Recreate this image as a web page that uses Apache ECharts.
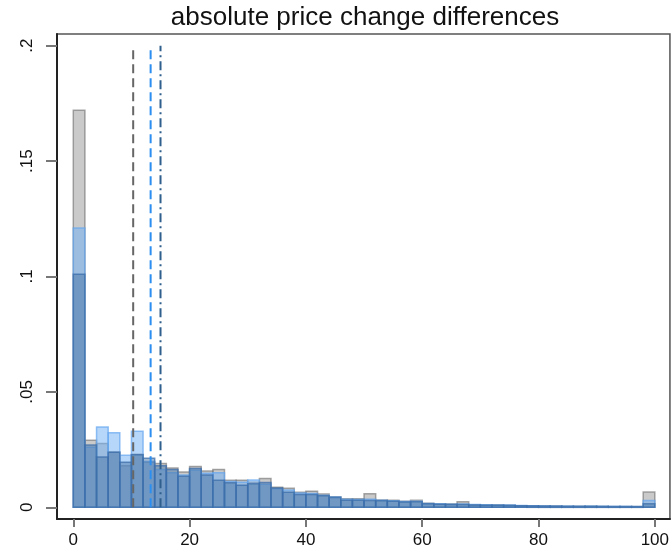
<!DOCTYPE html>
<html>
<head>
<meta charset="utf-8">
<script src="https://cdn.jsdelivr.net/npm/echarts@6/dist/echarts.min.js"></script>
<style>
  html, body { margin: 0; padding: 0; background: #fff; }
  #main { width: 672px; height: 553px; }
</style>
</head>
<body>
<div id="main"></div>
<script>
// bin lower edges (width 2)
const binStarts = [0,2,4,6,8,10,12,14,16,18,20,22,24,26,28,30,32,34,36,38,
  40,42,44,46,48,50,52,54,56,58,60,62,64,66,68,70,72,74,76,78,
  80,82,84,86,88,90,92,94,96,98];
const binWidth = 2;

// density per bin
const grayDensity = [.172,.029,.0276,.024,.018,.023,.0195,.019,.017,.0153,
  .0177,.0157,.0164,.0117,.0117,.0108,.0125,.0087,.0082,.0065,
  .007,.0058,.0046,.0037,.0037,.0059,.0032,.003,.0026,.003,
  .0017,.0014,.0014,.0024,.0011,.001,.001,.0009,.0007,.0006,
  .0006,.0005,.0004,.0004,.0004,.0003,.0003,.0003,.0003,.0066];
const lightDensity = [.121,.026,.0348,.0323,.0225,.033,.0198,.0164,.015,.014,
  .016,.0148,.015,.0112,.0108,.0118,.01,.008,.0075,.0062,
  .006,.0052,.0045,.0035,.0034,.0035,.003,.0028,.0025,.0026,
  .0016,.0015,.0013,.0014,.0012,.0011,.001,.001,.0008,.0007,
  .0006,.0005,.0005,.0004,.0005,.0004,.0004,.0004,.0003,.0029];
const darkDensity = [.101,.027,.0218,.0239,.0195,.0228,.0212,.018,.0164,.0134,
  .0168,.014,.0117,.0106,.0096,.0102,.0107,.0084,.0065,.0055,
  .0055,.005,.0042,.0031,.003,.0029,.0028,.0026,.0023,.0024,
  .0015,.0013,.0012,.0012,.001,.0009,.0009,.0008,.0007,.0006,
  .0005,.0005,.0004,.0004,.0004,.0004,.0003,.0003,.0003,.0015];

// means (vertical reference lines)
const grayMean = 10.3;
const lightMean = 13.3;
const darkMean = 15.0;

const xTicks = [0, 20, 40, 60, 80, 100];
const yTicks = [0, 0.05, 0.1, 0.15, 0.2];

const chart = echarts.init(document.getElementById('main'));

function histSeries(name, values, fill, stroke) {
  return {
    name: name,
    type: 'custom',
    data: binStarts.map((s, i) => [s, s + binWidth, values[i]]),
    encode: { x: [0, 1], y: 2 },
    renderItem: function (params, api) {
      const p0 = api.coord([api.value(0), api.value(2)]);
      const p1 = api.coord([api.value(1), 0]);
      return {
        type: 'rect',
        shape: { x: p0[0], y: p0[1], width: p1[0] - p0[0], height: p1[1] - p0[1] },
        style: { fill: fill, stroke: stroke, lineWidth: 1.5 }
      };
    },
    silent: true,
    z: 2
  };
}

function meanLine(x, color, dash) {
  return {
    type: 'line',
    data: [[x, 0], [x, 0.2]],
    symbol: 'none',
    silent: true,
    z: 5,
    lineStyle: { color: color, width: 2, type: dash }
  };
}

const option = {
  animation: false,
  title: {
    text: 'absolute price change differences',
    left: 360,
    textAlign: 'center',
    top: 0,
    textStyle: { fontFamily: 'Liberation Sans', fontSize: 26, fontWeight: 'normal', color: '#111' }
  },
  grid: {
    left: 57, right: 1, top: 34, bottom: 34,
    show: true, borderColor: '#555', borderWidth: 1.5, backgroundColor: '#fff'
  },
  xAxis: {
    type: 'value',
    min: -2.8, max: 102.6,
    splitLine: { show: false },
    axisLine: { show: true, onZero: false, lineStyle: { color: '#222', width: 2 } },
    axisTick: { show: true, customValues: xTicks, length: 8, lineStyle: { color: '#777', width: 2 } },
    axisLabel: { customValues: xTicks, margin: 13, fontFamily: 'Liberation Sans', fontSize: 17, color: '#111' }
  },
  yAxis: {
    type: 'value',
    min: -0.00507, max: 0.20507,
    splitLine: { show: false },
    axisLine: { show: true, onZero: false, lineStyle: { color: '#222', width: 2 } },
    axisTick: { show: true, customValues: yTicks, length: 11, lineStyle: { color: '#777', width: 2 } },
    axisLabel: {
      customValues: yTicks, rotate: 90, margin: 21,
      fontFamily: 'Liberation Sans', fontSize: 17, color: '#111',
      formatter: v => v === 0 ? '0' : String(+v.toFixed(3)).replace(/^0/, '')
    }
  },
  series: [
    histSeries('gray', grayDensity, 'rgba(128,128,128,0.42)', 'rgba(110,110,110,0.6)'),
    histSeries('light', lightDensity, 'rgba(110,175,245,0.5)', 'rgba(100,165,240,0.7)'),
    histSeries('dark', darkDensity, 'rgba(70,115,165,0.5)', 'rgba(60,110,170,0.75)'),
    meanLine(grayMean, '#666', [9, 5]),
    meanLine(lightMean, '#2b8ef0', [9, 5]),
    meanLine(darkMean, '#2f5f8c', [9, 4, 2, 4])
  ]
};

chart.setOption(option);
</script>
</body>
</html>
